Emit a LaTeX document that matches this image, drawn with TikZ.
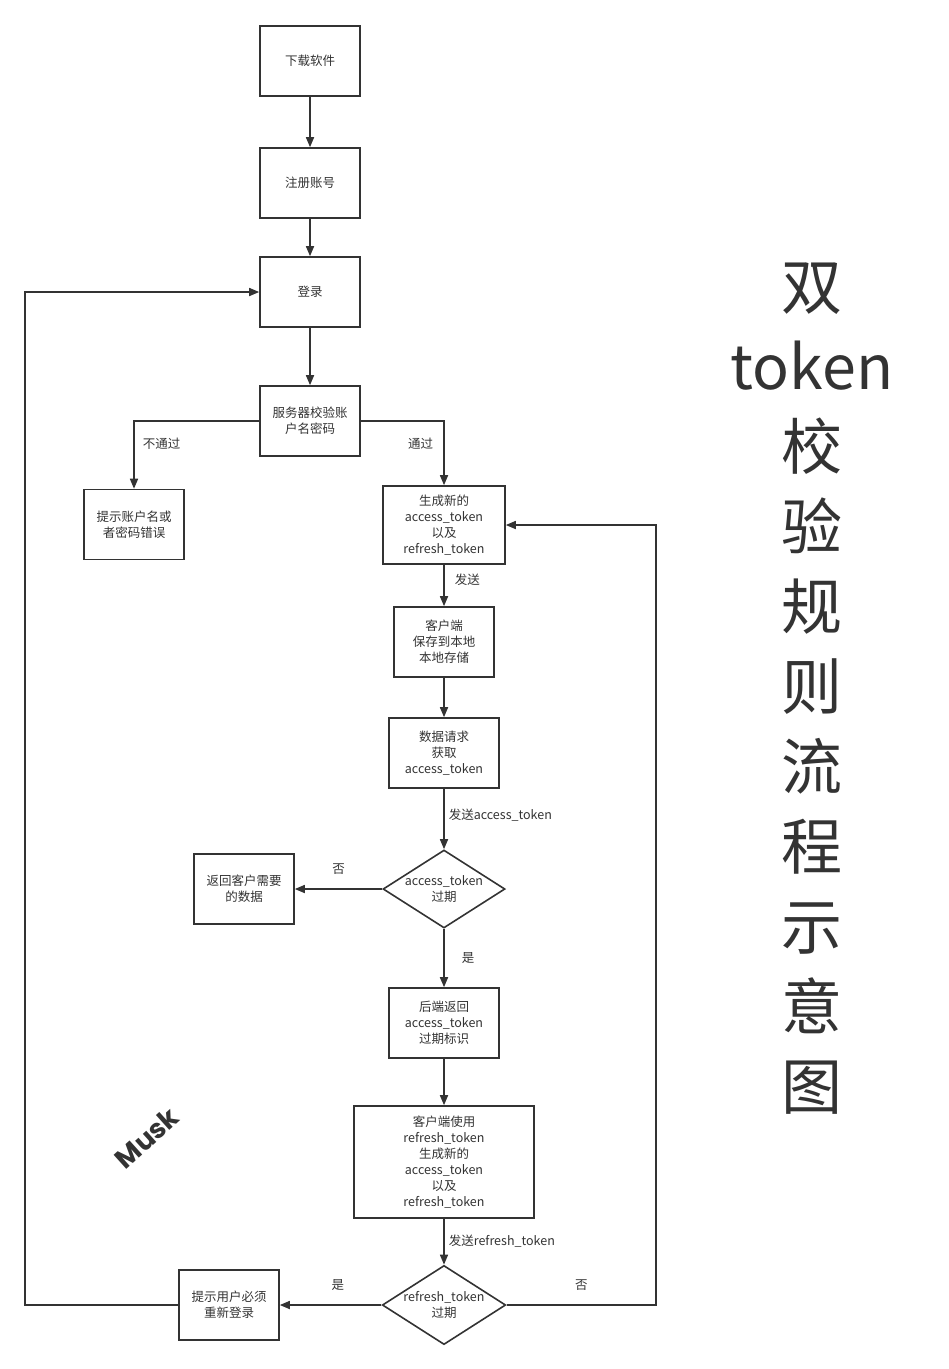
\documentclass[tikz,border=0pt]{standalone}
\usepackage{fontspec}
\setmainfont{Noto Sans CJK SC}
\newfontfamily\muskfont{Poppins}
\usetikzlibrary{shapes.geometric, arrows.meta}
\definecolor{inkgray}{HTML}{333333}

\begin{document}
\begin{tikzpicture}[
  x = 1pt, y = -1pt,
  box/.style = {draw=inkgray, line width=1.6pt, minimum width=100pt, minimum height=70pt,
                align=center, inner sep=2pt, text=inkgray, font=\fontsize{12.5}{16}\selectfont},
  decision/.style = {diamond, aspect=1.56, draw=inkgray, line width=1.6pt, minimum width=122pt,
                     minimum height=78pt, inner sep=0pt, align=center, text=inkgray,
                     font=\fontsize{12.5}{16}\selectfont},
  line/.style = {draw=inkgray, line width=1.6pt, -{Triangle[length=10pt, width=8pt]}},
  tag/.style = {text=inkgray, inner sep=1pt, font=\fontsize{12.5}{16}\selectfont},
  ]
  \useasboundingbox (0,0) rectangle (949,1369);

  % main column
  \node[box] (dl) at (310,61) {下载软件};
  \node[box] (reg) at (310,183) {注册账号};
  \node[box] (login) at (310,292) {登录};
  \node[box] (check) at (310,421) {服务器校验账\\户名密码};
  \node[box] (wrong) at (134,524.5) {提示账户名或\\者密码错误};
  \node[box, minimum width=122pt, minimum height=78pt] (gen) at (444,525)
    {生成新的\\access\_token\\以及\\refresh\_token};
  \node[box] (save) at (444,642) {客户端\\保存到本地\\本地存储};
  \node[box, minimum width=110pt] (req) at (444,753) {数据请求\\获取\\access\_token};
  \node[decision] (atk) at (444,889) {access\_token\\过期};
  \node[box] (back) at (244,889) {返回客户需要\\的数据};
  \node[box, minimum width=110pt] (flag) at (444,1023) {后端返回\\access\_token\\过期标识};
  \node[box, minimum width=180pt, minimum height=112pt] (use) at (444,1162)
    {客户端使用\\refresh\_token\\生成新的\\access\_token\\以及\\refresh\_token};
  \node[decision] (rtk) at (444,1305) {refresh\_token\\过期};
  \node[box] (relog) at (229,1305) {提示用户必须\\重新登录};
  \coordinate (rtkout) at (656,1305);
  \coordinate (relogout) at (25,1305);

  % title and mark
  \node[text=inkgray, align=center, font=\fontsize{61}{80}\selectfont] (title) at (812,689)
    {双\\token\\校\\验\\规\\则\\流\\程\\示\\意\\图};
  \node[rotate=42, text=inkgray, font=\muskfont\bfseries\fontsize{27}{27}\selectfont] (musk)
    at (147,1138) {Musk};

  % arrows
  \draw[line] (dl) -- (reg);
  \draw[line] (reg) -- (login);
  \draw[line] (login) -- (check);
  \draw[line] (check.west) -| node[tag, pos=0.67, right=7pt] {不通过} (wrong.north);
  \draw[line] (check.east) -| node[tag, pos=0.68, left=9pt] {通过} (gen.north);
  \draw[line] (gen) -- node[tag, pos=0.37, right=9pt] {发送} (save);
  \draw[line] (save) -- (req);
  \draw[line] (req) -- node[tag, pos=0.44, right=3pt] {发送access\_token} (atk);
  \draw[line] (atk) -- node[tag, above=13pt] {否} (back);
  \draw[line] (atk) -- node[tag, right=16pt] {是} (flag);
  \draw[line] (flag) -- (use);
  \draw[line] (use) -- node[tag, pos=0.48, right=3pt] {发送refresh\_token} (rtk);
  \draw[line] (rtk) -- node[tag, pos=0.43, above=13pt] {是} (relog);
  \draw[line] (rtk) -- node[tag, above=13pt] {否} (rtkout) |- (gen.east);
  \draw[line] (relog) -- (relogout) |- (login.west);
\end{tikzpicture}
\end{document}
